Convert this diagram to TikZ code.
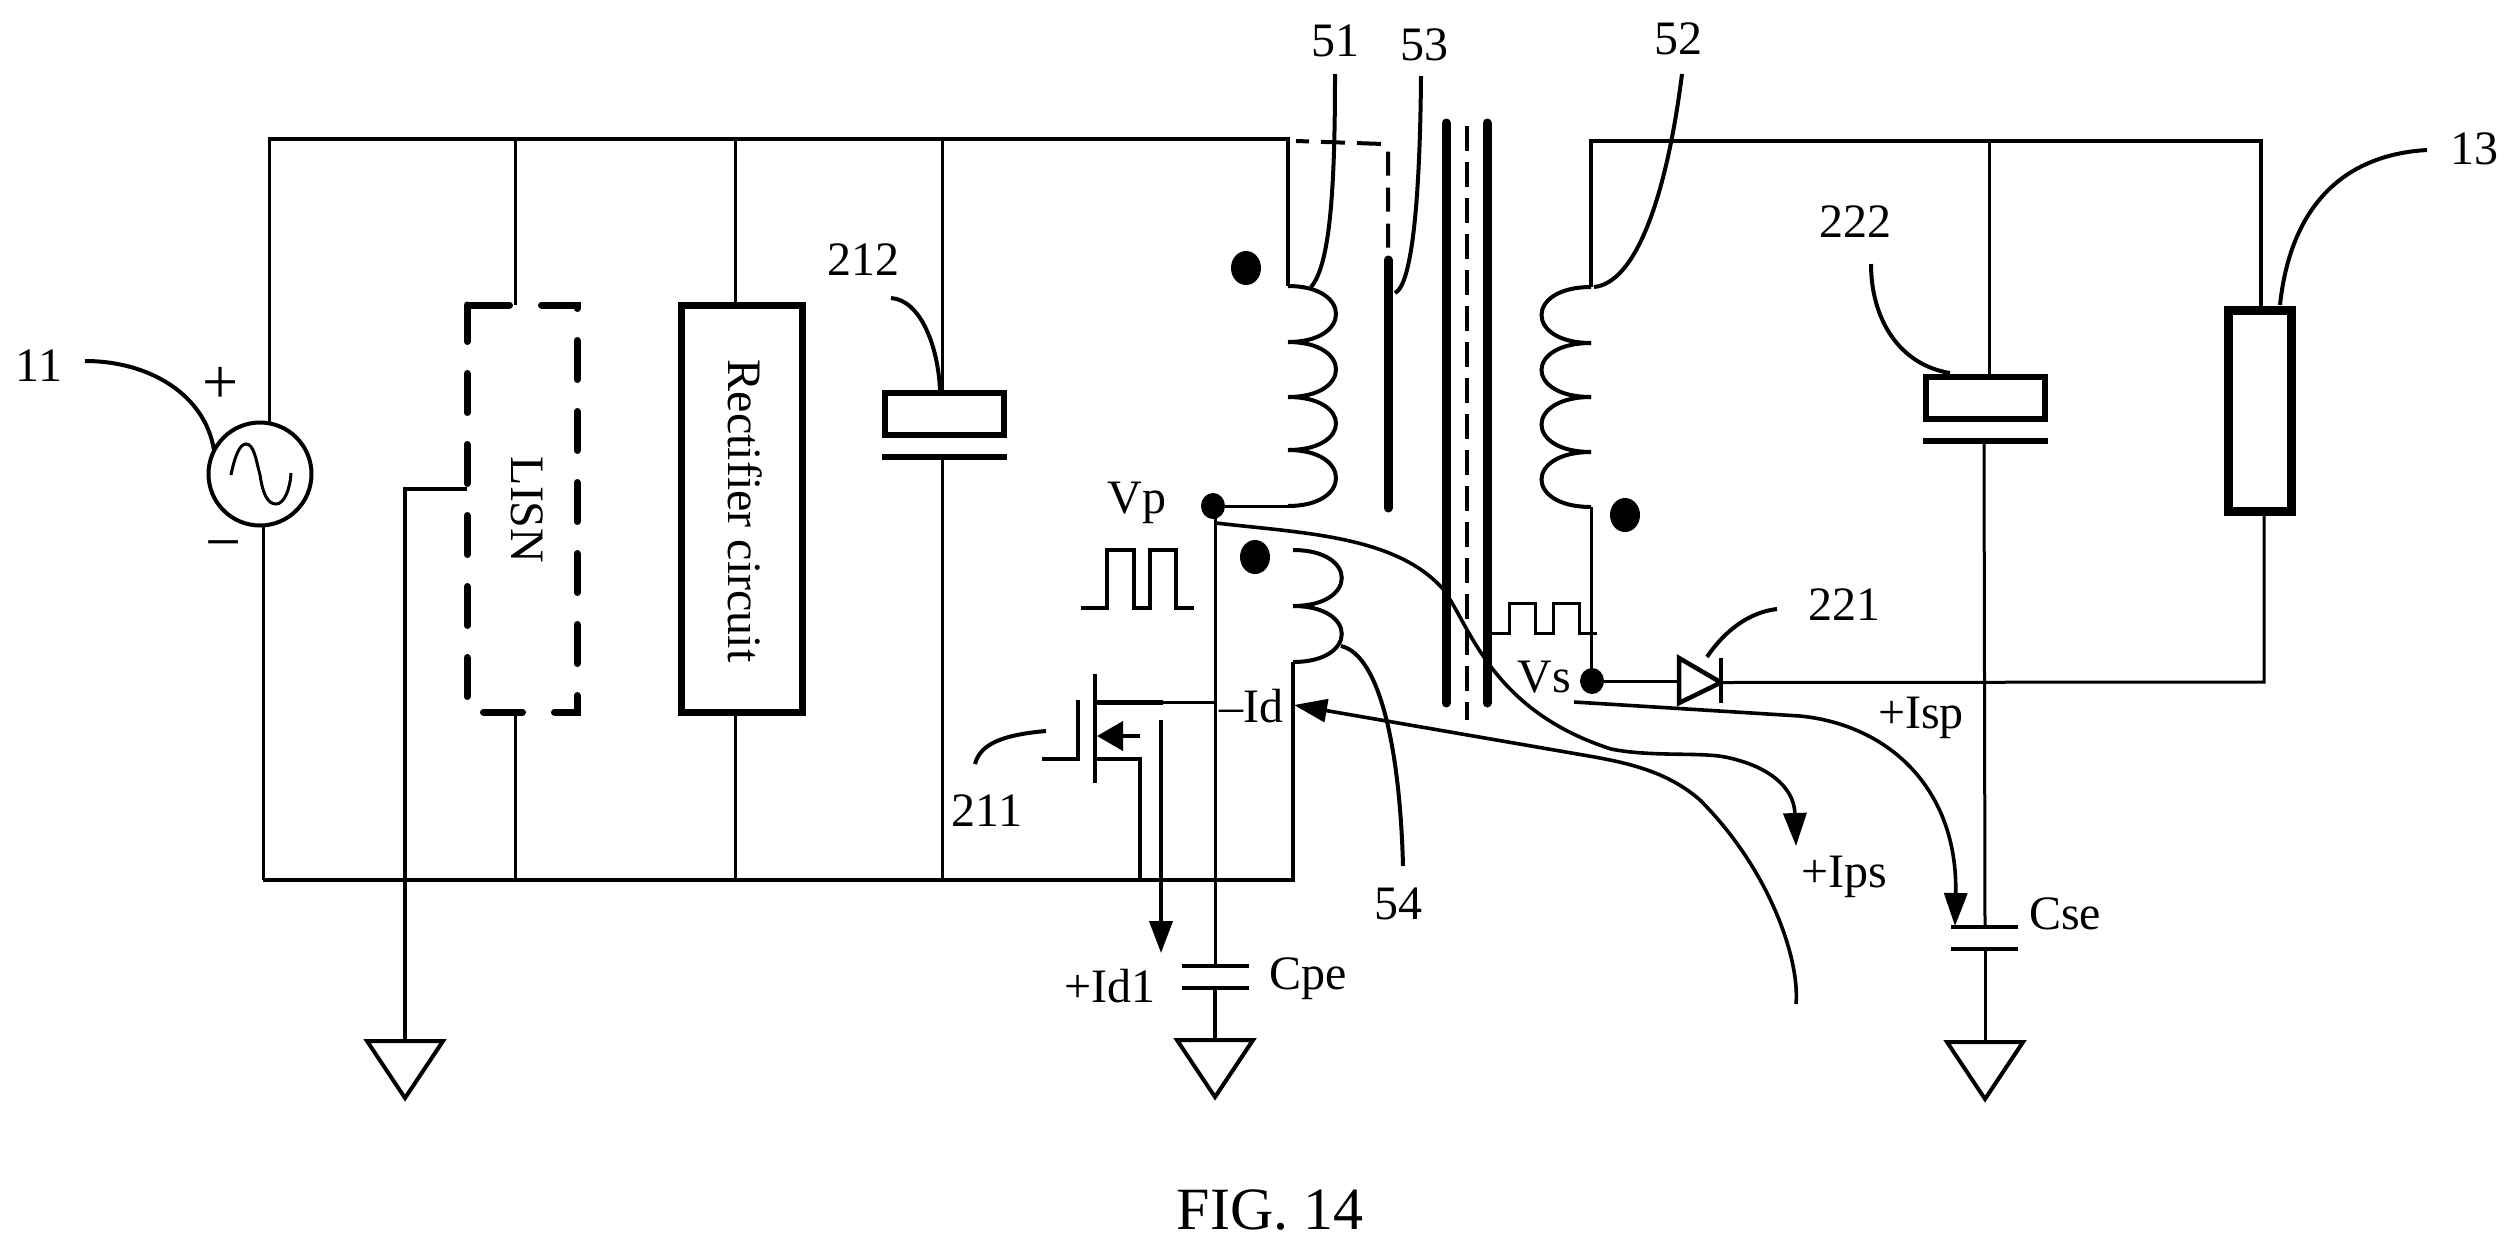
\documentclass[tikz,border=0pt]{standalone}
\usepackage{fontspec}
\setmainfont{Liberation Serif}
\usetikzlibrary{positioning,calc,arrows.meta,shapes.geometric}

\begin{document}
\begin{tikzpicture}[
    x=1pt, y=-1pt,
    wire/.style={draw, line width=3pt},
    bus/.style={draw, line width=4pt},
    leader/.style={draw, line width=4pt},
    coil/.style={draw, line width=4pt},
    current/.style={draw, line width=3.6pt, -{Triangle[length=33pt,width=23pt]}},
    box/.style={draw, rectangle, line width=7pt, inner sep=0pt, outer sep=0pt},
    capbox/.style={draw, rectangle, line width=6pt, minimum width=119pt, minimum height=42pt, inner sep=0pt, outer sep=0pt},
    dotmark/.style={ellipse, fill=black, inner sep=0pt, outer sep=0pt},
    polarity/.style={dotmark, minimum width=30pt, minimum height=34pt},
    junction/.style={dotmark, minimum width=24pt, minimum height=26pt},
    lbl/.style={inner sep=0pt, font=\fontsize{48}{52}\selectfont},
    sign/.style={inner sep=0pt, font=\fontsize{64}{68}\selectfont},
]
\useasboundingbox (0,0) rectangle (2517,1251);

% Define component nodes
\node[draw, circle, line width=4pt, minimum size=103pt, inner sep=0pt, outer sep=0pt] (src) at (260,474) {};
\node[rectangle, inner sep=0pt, outer sep=0pt, minimum width=110pt, minimum height=407pt] (lisn) at (522,508.5) {};
\node[box, minimum width=121pt, minimum height=407pt] (rect) at (741.5,508.5) {};
\node[capbox] (capa) at (944,414) {};
\node[capbox] (capb) at (1985.5,398) {};
\node[box, line width=9pt, minimum width=62.5pt, minimum height=201pt] (load) at (2259.75,411) {};

\node[junction] (vp) at (1213,506) {};
\node[junction] (vs) at (1592,681) {};
\node[polarity] (dota) at (1246,268) {};
\node[polarity] (dotb) at (1625,515) {};
\node[polarity] (dotc) at (1255,557) {};

% Junctions and free ends
\foreach \n/\x/\y in {
    srca/269/139, srcb/263/880, lisna/515/139, lisnb/515/880, recta/735/139, rectb/735/880,
    capat/942/139, capab/942/880, platea/882/457, plateb/1007/457,
    pritop/1288/139, pria/1288/286, prib/1288/506, aria/1293/662, arib/1293/880,
    sectop/1591/141, seca/1591/287, secb/1591/507, loadtop/2261/141, loadb/2264/682,
    capbt/1989/141, capbb/1984/441, platec/1923/441, plated/2048/441,
    sea/1951/927, seb/2018/927, sec/1951/949, sed/2018/949, sewa/1985/927, sewb/1985/949, seground/1985/1042,
    vpbot/1215/966, pea/1182/966, peb/1249/966, pec/1182/988, ped/1249/988, pewb/1215/988, peground/1215/1040,
    tapa/467/489, tapb/405/489, lground/405/1041,
    chana/1095/674, chanb/1095/783, gatea/1078/700, gateb/1078/759, gatec/1042/759,
    drain/1095/702, drainb/1163/702, drainc/1215/702, srcfet/1095/759, srcfetb/1140/759, srcfetc/1140/880,
    bodya/1140/736, bodyb/1097/736, ida/1161/720, idb/1161/953,
    dioa/1679/658, diob/1721/682.5, dioc/1679/703, diod/1721/658, dioe/1721/703,
    shielda/1296/141, shieldb/1384/144, shieldc/1388/150, shieldd/1388/255, shielde/1388/260, shieldf/1388/508,
    corea/1446/123, coreb/1446/703, corec/1487/123, cored/1487/703, coree/1467/126, coref/1467/720,
    ipsa/1216/523, ipsb/1796/846, idra/1796/1004, idrb/1294/705, ispa/1574/702, ispb/1955/926}
    \coordinate (\n) at (\x,\y);

% Main wiring, primary side
\draw[wire] (srca) -- (srca |- src.north);
\draw[wire] (srcb) -- (srcb |- src.south);
\draw[bus] ($(srca)+(-1.5,0)$) -- (pritop |- srca) -- (pria);
\draw[bus] (srcb) -- (arib) -- (aria);
\draw[box, dash pattern=on 39pt off 32pt, dash phase=67.5pt, line cap=round] (lisn.north west) -- (lisn.north east) -- (lisn.south east) -- (lisn.south west) -- cycle;
\draw[wire] (lisna) -- (lisna |- lisn.north);
\draw[wire] (lisnb) -- (lisnb |- lisn.south);
\draw[wire] (recta) -- (recta |- rect.north);
\draw[wire] (rectb) -- (rectb |- rect.south);
\draw[wire] (capat) -- (capat |- capa.north);
\draw[wire] (capab) -- (capab |- platea);
\draw[draw, line width=6pt] (platea) -- (plateb);
\draw[bus] (tapa) -- (tapb) -- (lground);

% Main wiring, secondary side
\draw[bus] (seca) -- (sectop) -- (loadtop) -- (loadtop |- load.north);
\draw[wire] (secb) -- (secb |- vs);
\draw[wire] (loadb |- load.south) -- (loadb) -- (diob);
\draw[wire] (vs) -- (dioa |- vs);
\draw[wire] (capbt) -- (capbt |- capb.north);
\draw[wire] (capbb) -- (sewa);
\draw[draw, line width=6pt] (platec) -- (plated);
\draw[bus] (sea) -- (seb);
\draw[bus] (sec) -- (sed);
\draw[wire] (sewb) -- (seground);

% Stray capacitor on the drain node
\draw[wire] (vp) -- (vp -| vpbot) -- (vpbot);
\draw[bus] (pea) -- (peb);
\draw[bus] (pec) -- (ped);
\draw[bus] (pewb) -- (peground);

% Grounds
\foreach \g in {lground, peground, seground}
    \draw[draw, line width=4pt, line join=miter] (\g) ++(-38,0) -- ++(76,0) -- ++(-38,57) -- cycle;

% Windings
\draw[wire] (vp) -- (prib);
\foreach \ya/\yb in {286/342, 342/397, 397/450, 450/506}
    \draw[coil] (1288,\ya) .. controls (1352,\ya) and (1352,\yb) .. (1288,\yb);
\foreach \ya/\yb in {287/343, 343/397, 397/452, 452/507}
    \draw[coil] (1591,\ya) .. controls (1525,\ya) and (1525,\yb) .. (1591,\yb);
\foreach \ya/\yb in {550/606, 606/662}
    \draw[coil] (1293,\ya) .. controls (1358,\ya) and (1358,\yb) .. (1293,\yb);

% Core and shield
\draw[line width=9pt, line cap=round] (shielde) -- (shieldf);
\draw[bus, dash pattern=on 24pt off 12pt, dash phase=11pt] (shielda) -- (shieldb) -- (shieldc) -- (shieldd);
\draw[line width=9pt, line cap=round] (corea) -- (coreb);
\draw[line width=9pt, line cap=round] (corec) -- (cored);
\draw[bus, dash pattern=on 25pt off 11pt] (coree) -- (coref);

% Transistor
\draw[bus] (chana) -- (chanb);
\draw[bus] (gatea) -- (gateb) -- (gatec);
\draw[bus, line width=5pt] (drain) -- (drainb);
\draw[wire] (drainb) -- (drainc);
\draw[bus] (srcfet) -- (srcfetb) -- (srcfetc);
\draw[bus, -{Triangle[length=26pt,width=29pt]}] (bodya) -- (bodyb);
\draw[bus, -{Triangle[length=32pt,width=23pt]}] (ida) -- (idb);

% Diode
\draw[draw, line width=4.5pt] (dioa) -- (diob) -- (dioc) -- cycle;
\draw[bus] (diod) -- (dioe);

% Waveforms
\draw[bus] (1081,608) -- ++(26,0) -- ++(0,-58) -- ++(27,0) -- ++(0,58) -- ++(16,0) -- ++(0,-58) -- ++(26,0) -- ++(0,58) -- ++(18,0);
\draw[wire] (1492,633) -- ++(17,0) -- ++(0,-30) -- ++(26,0) -- ++(0,30) -- ++(18,0) -- ++(0,-30) -- ++(26,0) -- ++(0,30) -- ++(18,0);
\draw[wire] (231,475) .. controls (235,455) and (240,444) .. (246,444) .. controls (254,444) and (256,460) .. (260,475) .. controls (263,495) and (268,504) .. (276,504) .. controls (284,504) and (290,490) .. (291,473);

% Current paths
\draw[current] (ipsa) .. controls (1300,533) and (1395,535) .. (1443,589) .. controls (1470,625) and (1490,710) .. (1611,749) .. controls (1650,757) and (1700,752) .. (1725,757) .. controls (1765,765) and (1794,785) .. (ipsb);
\draw[current] (idra) .. controls (1800,960) and (1770,870) .. (1700,800) .. controls (1660,765) and (1610,760) .. (1560,751) -- (idrb);
\draw[current] (ispa) -- (1800,716) .. controls (1890,725) and (1958,790) .. (ispb);

% Reference number leaders
\draw[leader] (85,361) .. controls (150,361) and (205,395) .. (214,450);
\draw[leader] (1335,74) .. controls (1335,190) and (1330,265) .. (1311,287);
\draw[leader] (1421,76) .. controls (1420,200) and (1412,285) .. (1395,293);
\draw[leader] (1682,74) .. controls (1666,200) and (1635,283) .. (1594,287);
\draw[leader] (891,298) .. controls (920,300) and (938,345) .. (940,390);
\draw[leader] (1871,264) .. controls (1871,320) and (1900,365) .. (1950,373);
\draw[leader] (2280,305) .. controls (2290,210) and (2340,155) .. (2427,150);
\draw[leader] (1707,657) .. controls (1725,630) and (1750,612) .. (1777,609);
\draw[leader] (1341,646) .. controls (1380,655) and (1400,750) .. (1403,866);
\draw[leader] (975,764) .. controls (980,745) and (1000,735) .. (1046,731);

% Labels
\node[lbl] (n11) at (39,366) {11};
\node[sign] (plus) at (221,385) {+};
\node[sign] (minus) at (223.5,552) {−};
\node[lbl, rotate=-90] (lisntxt) at (527,510) {LISN};
\node[lbl, rotate=-90] (recttxt) at (745,511) {Rectifier circuit};
\node[lbl] (n212) at (863,260) {212};
\node[lbl] (n211) at (987,811) {211};
\node[lbl] (n51) at (1335,41) {51};
\node[lbl] (n53) at (1424,45) {53};
\node[lbl] (n52) at (1678,39) {52};
\node[lbl] (n54) at (1398,904) {54};
\node[lbl] (n222) at (1855,222) {222};
\node[lbl] (n221) at (1844,605) {221};
\node[lbl] (n13) at (2474,149) {13};
\node[lbl] (vptxt) at (1137,503) {Vp};
\node[lbl] (vstxt) at (1544,677) {Vs};
\node[lbl] (idtxt) at (1251,706) {–Id};
\node[lbl] (id1txt) at (1110,986) {+Id1};
\node[lbl] (cpetxt) at (1308,979) {Cpe};
\node[lbl] (csetxt) at (2065,914) {Cse};
\node[lbl] (ipstxt) at (1844,877) {+Ips};
\node[lbl] (isptxt) at (1921,718) {+Isp};
\node[lbl, font=\fontsize{60}{64}\selectfont] (figtxt) at (1270,1210) {FIG. 14};

\end{tikzpicture}
\end{document}
